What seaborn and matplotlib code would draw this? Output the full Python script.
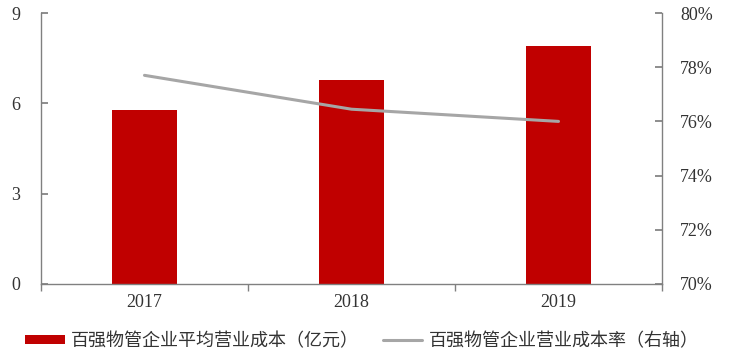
import numpy as np
import pandas as pd
import matplotlib
matplotlib.use("Agg")
import matplotlib.pyplot as plt
import seaborn as sns
from matplotlib.patches import Patch
from matplotlib.lines import Line2D
from matplotlib.ticker import FixedLocator, FuncFormatter

years = ["2017", "2018", "2019"]
avg_cost = [5.77, 6.79, 7.91]          # 亿元
cost_rate = [77.7, 76.45, 76.0]        # %
left_ticks = [0, 3, 6, 9]
right_ticks = [70, 72, 74, 76, 78, 80]
bar_label = "百强物管企业平均营业成本（亿元）"
line_label = "百强物管企业营业成本率（右轴）"

sns.set_theme(style="white")
plt.rcParams['font.family'] = ['Liberation Serif', 'Noto Sans CJK SC', 'DejaVu Sans']

BAR = "#C00000"
LINE = "#A6A6A6"
AX = "#808080"

fig = plt.figure(figsize=(7.34, 3.63), dpi=100)
ax = fig.add_axes([41/734, 1-284/363, (662-41)/734, (284-13)/363])

df = pd.DataFrame({"year": years, "cost": avg_cost, "rate": cost_rate})
sns.barplot(data=df, x="year", y="cost", color=BAR, width=0.315, ax=ax,
            saturation=1, edgecolor="none")
ax.set_xlim(-0.5, 2.5)
ax.set_ylim(0, 9)
ax.set_yticks(left_ticks)
ax.set_xlabel("")
ax.set_ylabel("")

ax2 = ax.twinx()
sns.lineplot(x=np.arange(len(years)), y=cost_rate, color=LINE, linewidth=2.2, ax=ax2)
ax2.set_ylim(70, 80)
ax2.set_yticks(right_ticks)
ax2.yaxis.set_major_formatter(FuncFormatter(lambda v, p: f"{v:.0f}%"))
ax2.set_xlim(-0.5, 2.5)

for a in (ax, ax2):
    a.spines['top'].set_visible(False)
    for s in ('left', 'right', 'bottom'):
        a.spines[s].set_color(AX)
        a.spines[s].set_linewidth(1.0)
    a.grid(False)

ax.spines['right'].set_visible(False)
ax2.spines['left'].set_visible(False)
ax2.spines['bottom'].set_visible(False)

ax.tick_params(axis='y', direction='in', length=5, color=AX, labelsize=13,
               pad=15, labelcolor='#333333', left=True)
ax2.tick_params(axis='y', direction='in', length=5, color=AX, labelsize=13,
                pad=13, labelcolor='#333333', right=True)
ax.tick_params(axis='x', which='major', length=0, labelsize=13, pad=7,
               labelcolor='#333333')
ax.xaxis.set_minor_locator(FixedLocator([-0.5, 0.5, 1.5, 2.5]))
ax.tick_params(axis='x', which='minor', direction='out', length=5, color=AX,
               bottom=True)

handles = [Patch(facecolor=BAR, edgecolor='none'),
           Line2D([0], [0], color=LINE, linewidth=2.2)]
fig.legend(handles, [bar_label, line_label], loc='center',
           bbox_to_anchor=(362/734, 1-341/363), ncol=2, frameon=False,
           prop={'family': ['Noto Sans CJK SC'], 'size': 13},
           handlelength=2.2, handleheight=0.45, columnspacing=1.3,
           handletextpad=0.35, labelcolor='#333333')

fig.savefig("out.png", dpi=100, facecolor='white')
